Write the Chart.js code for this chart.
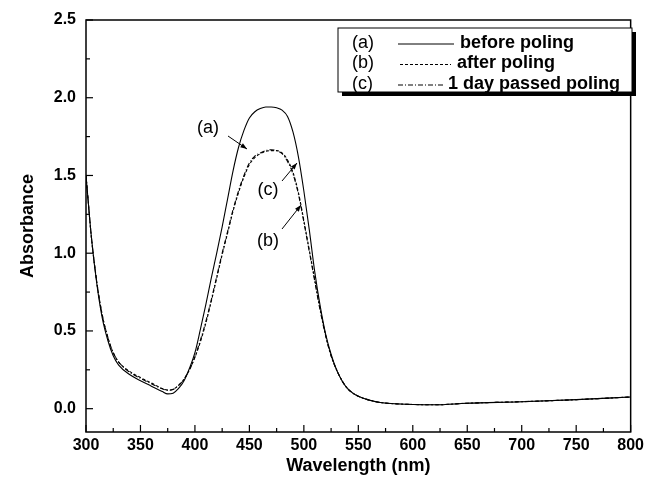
<!DOCTYPE html>
<html>
<head>
<meta charset="utf-8">
<script src="https://cdn.jsdelivr.net/npm/chart.js@4.4.0/dist/chart.umd.min.js"></script>
<style>
  html, body { margin: 0; padding: 0; background: #fff; }
  #wrap { width: 648px; height: 477px; }
</style>
</head>
<body>
<div id="wrap"><canvas id="spectra" width="648" height="477"></canvas></div>
<script>
// wavelength (nm)
const wavelength = [300, 305, 310, 315, 320, 325, 330, 340, 350, 360, 370, 375, 380, 385, 390, 395,
    400, 405, 410, 415, 420, 425, 430, 435, 440, 445, 450, 455, 460, 465, 470, 475, 480, 485, 490,
    495, 500, 505, 510, 515, 520, 525, 530, 535, 540, 545, 550, 560, 570, 580, 600, 620, 650, 700, 750, 800];

// (a) before poling
const absA = [1.50, 1.10, 0.80, 0.58, 0.44, 0.34, 0.28, 0.22, 0.18, 0.145, 0.11, 0.095, 0.10, 0.13, 0.18, 0.26,
    0.36, 0.51, 0.67, 0.84, 1.00, 1.17, 1.35, 1.53, 1.68, 1.79, 1.87, 1.91, 1.93, 1.94, 1.94, 1.935, 1.92, 1.88, 1.78,
    1.62, 1.40, 1.15, 0.88, 0.66, 0.48, 0.35, 0.25, 0.18, 0.13, 0.10, 0.08, 0.055, 0.04, 0.033, 0.027, 0.025, 0.035, 0.045, 0.058, 0.075];

// (b) after poling
const absB = [1.50, 1.10, 0.81, 0.60, 0.46, 0.36, 0.30, 0.24, 0.20, 0.165, 0.13, 0.12, 0.125, 0.15, 0.19, 0.25,
    0.33, 0.43, 0.55, 0.69, 0.84, 0.99, 1.13, 1.27, 1.39, 1.49, 1.57, 1.615, 1.64, 1.655, 1.66, 1.66, 1.645, 1.60, 1.52,
    1.39, 1.21, 1.02, 0.83, 0.64, 0.47, 0.34, 0.25, 0.18, 0.13, 0.10, 0.08, 0.055, 0.04, 0.033, 0.027, 0.025, 0.035, 0.045, 0.058, 0.075];

// (c) 1 day passed poling
const absC = [1.50, 1.10, 0.81, 0.60, 0.46, 0.36, 0.30, 0.235, 0.195, 0.16, 0.128, 0.118, 0.124, 0.15, 0.19, 0.25,
    0.335, 0.44, 0.56, 0.70, 0.85, 1.00, 1.14, 1.28, 1.40, 1.50, 1.58, 1.625, 1.645, 1.66, 1.665, 1.66, 1.64, 1.59, 1.51,
    1.38, 1.20, 1.01, 0.82, 0.63, 0.47, 0.34, 0.25, 0.18, 0.13, 0.10, 0.08, 0.055, 0.04, 0.033, 0.027, 0.025, 0.035, 0.045, 0.058, 0.075];

const xTicks = [300, 325, 350, 375, 400, 425, 450, 475, 500, 525, 550, 575, 600, 625, 650, 675, 700, 725, 750, 775, 800];
const yTicks = [0, 0.25, 0.5, 0.75, 1.0, 1.25, 1.5, 1.75, 2.0, 2.25, 2.5];

const seriesNames = ['before poling', 'after poling', '1 day passed poling'];
const seriesTags = ['(a)', '(b)', '(c)'];
const seriesDash = [[], [3, 2], [5, 2, 1, 2]];

const FONT = '"Liberation Sans", Arial, sans-serif';

function pts(arr) {
    return wavelength.map((w, i) => ({ x: w, y: arr[i] }));
}

function isMajorY(v) {
    return Math.abs(v * 2 - Math.round(v * 2)) < 1e-6;
}

// frame, inward ticks, legend box and the (a)(b)(c) callouts
const decor = {
    id: 'decor',
    afterDraw(chart) {
        const ctx = chart.ctx;
        const a = chart.chartArea;
        const xs = chart.scales.x, ys = chart.scales.y;
        ctx.save();
        ctx.strokeStyle = '#000';
        ctx.lineWidth = 1.5;
        ctx.setLineDash([]);
        ctx.strokeRect(a.left, a.top, a.right - a.left, a.bottom - a.top);

        ctx.lineWidth = 1.2;
        xTicks.forEach(v => {
            const px = xs.getPixelForValue(v);
            const len = v % 50 === 0 ? 7 : 4;
            ctx.beginPath();
            ctx.moveTo(px, a.bottom);
            ctx.lineTo(px, a.bottom - len);
            ctx.stroke();
        });
        yTicks.forEach(v => {
            const py = ys.getPixelForValue(v);
            const len = isMajorY(v) ? 7 : 4;
            ctx.beginPath();
            ctx.moveTo(a.left, py);
            ctx.lineTo(a.left + len, py);
            ctx.stroke();
        });

        // legend (hand-placed, as in the original figure)
        const lx = 338, ly = 28, lw = 294, lh = 64;
        const rows = [
            { line: [398, 454], text: 460 },
            { line: [400, 451], text: 457 },
            { line: [398, 443], text: 448 }
        ];
        ctx.fillStyle = '#000';
        ctx.fillRect(lx + 4, ly + 4, lw, lh);
        ctx.fillStyle = '#fff';
        ctx.fillRect(lx, ly, lw, lh);
        ctx.lineWidth = 1;
        ctx.strokeRect(lx, ly, lw, lh);
        ctx.textBaseline = 'middle';
        ctx.textAlign = 'left';
        ctx.fillStyle = '#000';
        rows.forEach((r, i) => {
            const ry = ly + 15 + i * 20.5;
            ctx.font = '18px ' + FONT;
            ctx.fillText(seriesTags[i], 352, ry);
            ctx.setLineDash(seriesDash[i]);
            ctx.lineWidth = 1;
            ctx.beginPath();
            ctx.moveTo(r.line[0], ry + 1);
            ctx.lineTo(r.line[1], ry + 1);
            ctx.stroke();
            ctx.setLineDash([]);
            ctx.font = 'bold 18px ' + FONT;
            ctx.fillText(seriesNames[i], r.text, ry);
        });

        // callouts
        const callouts = [
            { tag: '(a)', tx: 208, ty: 128, x1: 228, y1: 136, x2: 247, y2: 149 },
            { tag: '(c)', tx: 268, ty: 190, x1: 282, y1: 181, x2: 297, y2: 163 },
            { tag: '(b)', tx: 268, ty: 241, x1: 282, y1: 229, x2: 301, y2: 205 }
        ];
        ctx.font = '18px ' + FONT;
        ctx.textAlign = 'center';
        callouts.forEach(c => {
            ctx.fillText(c.tag, c.tx, c.ty);
            ctx.beginPath();
            ctx.moveTo(c.x1, c.y1);
            ctx.lineTo(c.x2, c.y2);
            ctx.stroke();
            const ang = Math.atan2(c.y2 - c.y1, c.x2 - c.x1);
            ctx.beginPath();
            ctx.moveTo(c.x2, c.y2);
            ctx.lineTo(c.x2 - 7 * Math.cos(ang - 0.35), c.y2 - 7 * Math.sin(ang - 0.35));
            ctx.lineTo(c.x2 - 7 * Math.cos(ang + 0.35), c.y2 - 7 * Math.sin(ang + 0.35));
            ctx.closePath();
            ctx.fill();
        });
        ctx.restore();
    }
};

const config = {
    type: 'line',
    data: {
        datasets: [absA, absB, absC].map((arr, i) => ({
            label: seriesNames[i],
            data: pts(arr),
            borderColor: '#000',
            borderWidth: 1.1,
            borderDash: seriesDash[i],
            pointRadius: 0,
            fill: false,
            cubicInterpolationMode: 'monotone'
        }))
    },
    options: {
        responsive: false,
        animation: false,
        layout: { padding: { top: 20, right: 14, left: 0, bottom: 0 } },
        plugins: {
            legend: { display: false },
            tooltip: { enabled: false }
        },
        scales: {
            x: {
                type: 'linear',
                min: 300,
                max: 800,
                afterBuildTicks: s => { s.ticks = xTicks.map(v => ({ value: v })); },
                afterFit: s => { s.height = 45; },
                grid: { display: false, drawTicks: false },
                border: { display: false },
                ticks: {
                    color: '#000',
                    padding: 4,
                    autoSkip: false,
                    maxRotation: 0,
                    minRotation: 0,
                    font: { family: FONT, size: 16, weight: 'bold' },
                    callback: v => (v % 50 === 0 ? String(v) : '')
                },
                title: {
                    display: true,
                    text: 'Wavelength (nm)',
                    color: '#000',
                    padding: { top: 0, bottom: 0 },
                    font: { family: FONT, size: 18, weight: 'bold' }
                }
            },
            y: {
                min: -0.15,
                max: 2.5,
                afterBuildTicks: s => { s.ticks = yTicks.map(v => ({ value: v })); },
                afterFit: s => { s.width = 86; },
                grid: { display: false, drawTicks: false },
                border: { display: false },
                ticks: {
                    color: '#000',
                    padding: 10,
                    autoSkip: false,
                    font: { family: FONT, size: 16, weight: 'bold' },
                    callback: v => (isMajorY(v) ? v.toFixed(1) : '')
                },
                title: {
                    display: true,
                    text: 'Absorbance',
                    color: '#000',
                    padding: { bottom: 0, top: 17 },
                    font: { family: FONT, size: 18, weight: 'bold' }
                }
            }
        }
    },
    plugins: [decor]
};

const spectraChart = new Chart(document.getElementById('spectra'), config);
</script>
</body>
</html>
